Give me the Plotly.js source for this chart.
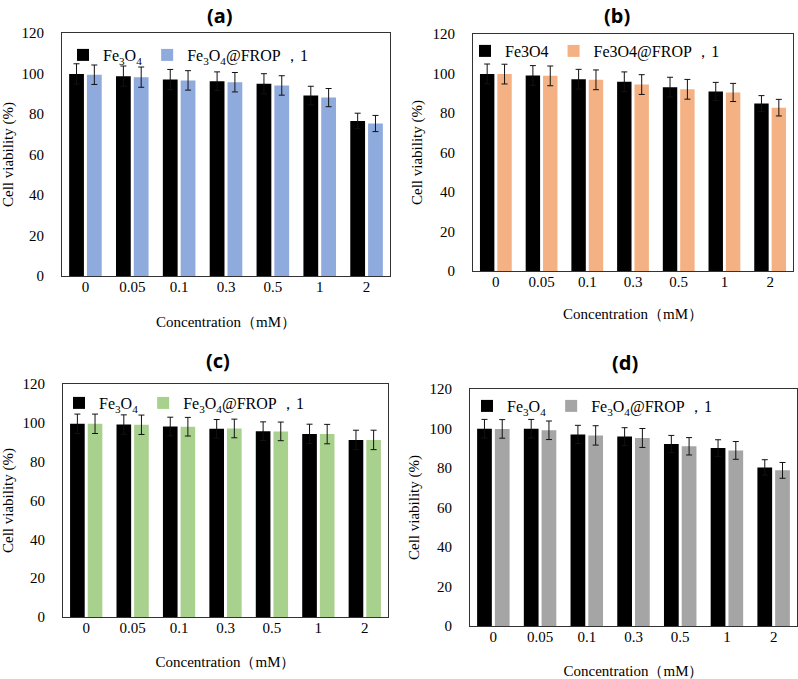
<!DOCTYPE html>
<html>
<head>
<meta charset="utf-8">
<script src="https://cdn.plot.ly/plotly-3.0.1.min.js"></script>
<style>
  body { margin: 0; background: #fff; }
  #chart { width: 798px; height: 679px; }
</style>
</head>
<body>
<div id="chart"></div>
<script>
// concentrations (mM)
const conc = ["0", "0.05", "0.1", "0.3", "0.5", "1", "2"];

// (a) Fe3O4 vs Fe3O4@FROP-1 (blue)
const a_fe = [99.8, 98.7, 97.0, 96.2, 94.9, 89.1, 76.6];
const a_fe_err = [5.0, 5.0, 5.0, 4.6, 5.0, 4.6, 3.8];
const a_frop = [99.4, 98.2, 96.6, 95.7, 94.1, 88.1, 75.3];
const a_frop_err = [4.8, 5.0, 4.8, 4.8, 4.8, 4.5, 4.0];

// (b) orange
const b_fe = [99.8, 99.0, 97.1, 95.8, 93.1, 90.9, 84.8];
const b_fe_err = [5.0, 5.0, 5.0, 5.0, 5.0, 4.6, 4.0];
const b_frop = [99.7, 98.8, 96.8, 94.4, 92.0, 90.4, 82.7];
const b_frop_err = [5.0, 5.0, 5.0, 5.0, 5.0, 4.6, 4.2];

// (c) green
const c_fe = [99.5, 99.1, 98.1, 96.9, 95.7, 94.3, 91.2];
const c_fe_err = [5.0, 5.0, 4.8, 4.8, 4.8, 5.0, 5.0];
const c_frop = [99.5, 99.0, 98.0, 97.1, 95.6, 94.2, 91.2];
const c_frop_err = [5.0, 5.0, 4.8, 4.8, 4.8, 5.0, 5.0];

// (d) gray
const d_fe = [99.9, 99.9, 97.0, 95.9, 92.2, 90.1, 80.3];
const d_fe_err = [4.7, 4.7, 4.6, 4.5, 4.3, 4.2, 3.9];
const d_frop = [99.8, 99.1, 96.5, 95.2, 91.0, 88.9, 78.8];
const d_frop_err = [4.7, 4.7, 4.9, 4.8, 4.4, 4.5, 4.0];

const sub_fe = "Fe<sub>3</sub>O<sub>4</sub>";
const plain_fe = "Fe3O4";

const W = 798, H = 679;
const serif = "Liberation Serif, Times New Roman, serif";

// plot boxes in page pixels: [left, right, top, bottom]
const boxes = [
    [62, 390, 33, 276],
    [473, 793, 34, 271],
    [63, 388, 384, 617],
    [470, 797, 389, 626]
];
const panels = [
    {tag: "(a)", fe: a_fe, fe_err: a_fe_err, frop: a_frop, frop_err: a_frop_err, color: "#8faadc", fe_name: sub_fe, legend_x: 63, legend_y: 38, xt_standoff: 22, title_xy: [220, 15]},
    {tag: "(b)", fe: b_fe, fe_err: b_fe_err, frop: b_frop, frop_err: b_frop_err, color: "#f4b183", fe_name: plain_fe, legend_x: 465, legend_y: 34, xt_standoff: 19, title_xy: [617, 15]},
    {tag: "(c)", fe: c_fe, fe_err: c_fe_err, frop: c_frop, frop_err: c_frop_err, color: "#a9d18e", fe_name: sub_fe, legend_x: 59, legend_y: 386, xt_standoff: 21, title_xy: [218, 360]},
    {tag: "(d)", fe: d_fe, fe_err: d_fe_err, frop: d_frop, frop_err: d_frop_err, color: "#a5a5a5", fe_name: sub_fe, legend_x: 467, legend_y: 389, xt_standoff: 23, title_xy: [625, 362]}
];

const traces = [];
const layout = {
    width: W, height: H,
    margin: {l: 0, r: 0, t: 0, b: 0},
    paper_bgcolor: "#fff", plot_bgcolor: "#fff",
    barmode: "group", bargap: 0.24, bargroupgap: 0.17,
    font: {family: serif, color: "#000", size: 15},
    annotations: []
};

panels.forEach(function (p, i) {
    const n = i === 0 ? "" : String(i + 1);
    const leg = i === 0 ? "legend" : "legend" + n;
    const b = boxes[i];
    const err = (arr) => ({type: "data", array: arr, visible: true, color: "#111", thickness: 1, width: 3});

    traces.push({
        type: "bar", x: conc, y: p.fe, name: p.fe_name,
        xaxis: "x" + n, yaxis: "y" + n, legend: leg,
        marker: {color: "#000"}, error_y: err(p.fe_err)
    });
    traces.push({
        type: "bar", x: conc, y: p.frop, name: p.fe_name + "@FROP ，1",
        xaxis: "x" + n, yaxis: "y" + n, legend: leg,
        marker: {color: p.color}, error_y: err(p.frop_err)
    });

    layout["xaxis" + n] = {
        type: "category", domain: [b[0] / W, b[1] / W], anchor: "y" + n,
        showline: true, linecolor: "#333", linewidth: 1, mirror: true,
        ticks: "", ticklabelstandoff: -3, tickfont: {family: serif, size: 15},
        title: {text: "Concentration（mM）", font: {family: serif, size: 15}, standoff: p.xt_standoff}
    };
    layout["yaxis" + n] = {
        domain: [1 - b[3] / H, 1 - b[2] / H], anchor: "x" + n,
        range: [0, 120], dtick: 20,
        showline: true, linecolor: "#333", linewidth: 1, mirror: true,
        showgrid: false, zeroline: false, ticks: "", ticklabelstandoff: 14,
        tickfont: {family: serif, size: 15},
        title: {text: "Cell viability (%)", font: {family: serif, size: 15}, standoff: 6}
    };
    layout[leg] = {
        orientation: "h", x: p.legend_x / W, y: 1 - p.legend_y / H,
        xanchor: "left", yanchor: "top", bgcolor: "rgba(0,0,0,0)",
        font: {family: serif, size: 16}, traceorder: "normal", itemwidth: 30
    };
    layout.annotations.push({
        text: "<b>" + p.tag + "</b>", xref: "paper", yref: "paper",
        x: p.title_xy[0] / W, y: 1 - p.title_xy[1] / H, showarrow: false,
        xanchor: "center", yanchor: "middle",
        font: {family: "Noto Sans, DejaVu Sans, sans-serif", size: 20, color: "#000"}
    });
});

Plotly.newPlot("chart", traces, layout, {staticPlot: true});
</script>
</body>
</html>
